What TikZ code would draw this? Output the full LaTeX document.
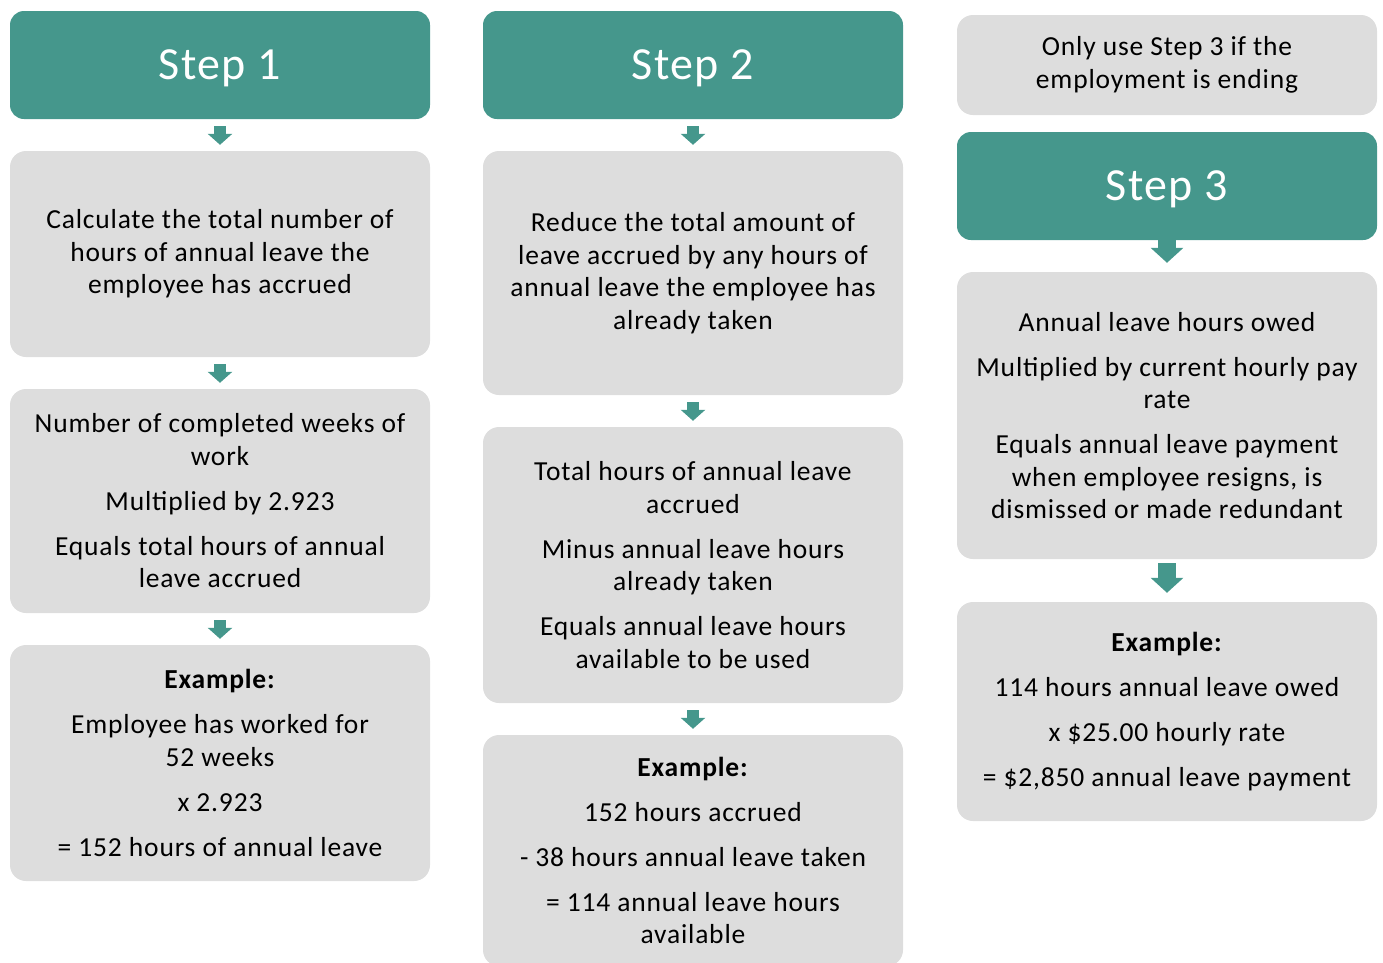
\documentclass[tikz,border=0pt]{standalone}
\usepackage{fontspec}
\setmainfont{Carlito}[LetterSpace=3]
\usetikzlibrary{arrows.meta}
\definecolor{stepteal}{HTML}{45978C}
\definecolor{boxgrey}{HTML}{DDDDDD}
\tikzset{
 stephead/.style={fill=stepteal,text=white,rounded corners=14pt,minimum width=420pt,minimum height=108pt,inner sep=0pt,text depth=0pt,font=\fontsize{46}{50}\selectfont},
 infobox/.style={fill=boxgrey,rounded corners=16pt,minimum width=420pt,align=center,inner sep=0pt,font=\fontsize{27.5}{32.5}\selectfont},
 flow/.style={stepteal,line width=12pt,-{Triangle[width=24pt,length=11pt]}},
 bigflow/.style={stepteal,line width=18pt,-{Triangle[width=32pt,length=15pt]}}
}
\newcommand{\pgap}{\\[12.5pt]}
\begin{document}
\begin{tikzpicture}[x=1pt,y=-1pt]
\useasboundingbox (0,0) rectangle (1383,962);
\node[stephead] (step1) at (220,65) {Step 1};
\node[infobox,minimum height=206pt] (calc1) at (220,254) {Calculate the total number of\\hours of annual leave the\\employee has accrued};
\node[infobox,minimum height=224pt] (weeks1) at (220,501) {Number of completed weeks of\\work\pgap Multiplied by 2.923\pgap Equals total hours of annual\\leave accrued};
\node[infobox,minimum height=236pt] (example1) at (220,763) {\textbf{Example:}\pgap Employee has worked for\\52 weeks\pgap x 2.923\pgap = 152 hours of annual leave};
\node[stephead] (step2) at (693,65) {Step 2};
\node[infobox,minimum height=244pt] (reduce2) at (693,273) {Reduce the total amount of\\leave accrued by any hours of\\annual leave the employee has\\already taken};
\node[infobox,minimum height=276pt] (total2) at (693,565) {Total hours of annual leave\\accrued\pgap Minus annual leave hours\\already taken\pgap Equals annual leave hours\\available to be used};
\node[infobox,minimum height=231pt] (example2) at (693,850.5) {\textbf{Example:}\pgap 152 hours accrued\pgap - 38 hours annual leave taken\pgap = 114 annual leave hours\\available};
\node[infobox,minimum height=100pt] (note3) at (1167,65) {Only use Step 3 if the\\employment is ending};
\node[stephead] (step3) at (1167,186) {Step 3};
\node[infobox,minimum height=287pt] (owed3) at (1167,415.5) {Annual leave hours owed\pgap Multiplied by current hourly pay\\rate\pgap Equals annual leave payment\\when employee resigns, is\\dismissed or made redundant};
\node[infobox,minimum height=219pt] (example3) at (1167,711.5) {\textbf{Example:}\pgap 114 hours annual leave owed\pgap x \$25.00 hourly rate\pgap = \$2,850 annual leave payment};
\foreach \a/\b in {step1/calc1,calc1/weeks1,weeks1/example1,step2/reduce2,reduce2/total2,total2/example2}
 \draw[flow] ([yshift=-7pt]\a.south) -- ([yshift=6pt]\b.north);
\draw[bigflow] (step3.south) -- ([yshift=9pt]owed3.north);
\draw[bigflow] ([yshift=-4pt]owed3.south) -- ([yshift=9pt]example3.north);
\end{tikzpicture}
\end{document}
